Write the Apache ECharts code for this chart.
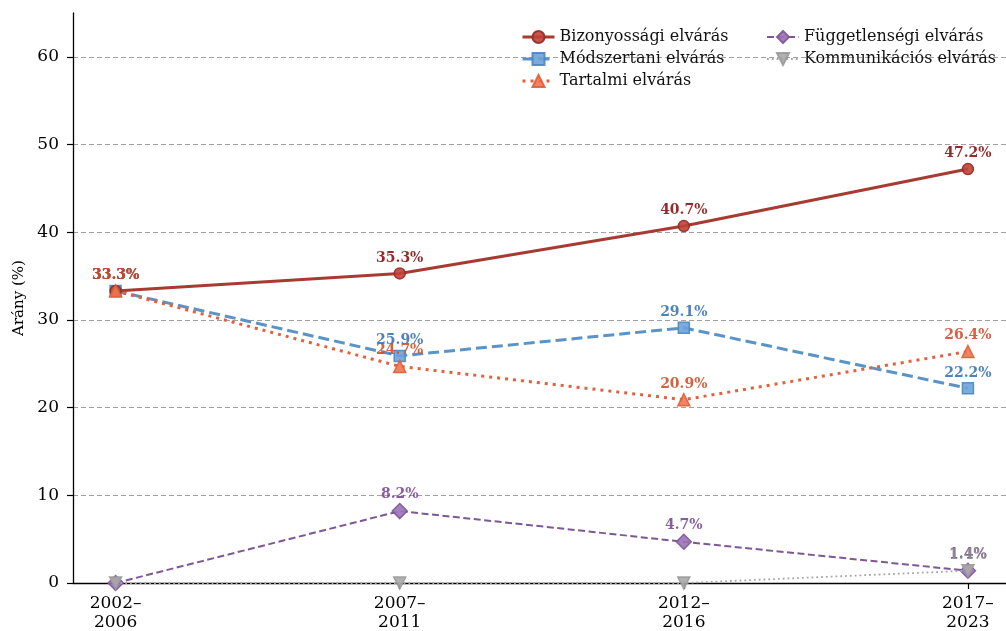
<!DOCTYPE html>
<html>
<head>
<meta charset="utf-8">
<script src="https://cdn.jsdelivr.net/npm/echarts@6/dist/echarts.min.js"></script>
<style>
  html, body { margin: 0; padding: 0; background: #fff; }
  #chart { width: 1006px; height: 631px; }
</style>
</head>
<body>
<div id="chart"></div>
<script>
// Periods on the x axis
const periods = ['2002–\n2006', '2007–\n2011', '2012–\n2016', '2017–\n2023'];

// Share of each expectation type per period (%)
const bizonyossagi = [33.3, 35.3, 40.7, 47.2];
const modszertani = [33.3, 25.9, 29.1, 22.2];
const tartalmi = [33.3, 24.7, 20.9, 26.4];
const fuggetlensegi = [0, 8.2, 4.7, 1.4];
const kommunikacios = [0, 0, 0, 1.4];

const yTicks = [0, 10, 20, 30, 40, 50, 60];
const xTicks = [0, 1, 2, 3];

const FONT = 'DejaVu Serif';

function pairs(values) {
  return values.map((v, i) => [i, v]);
}

const styles = {};

function makeSeries(name, values, cfg) {
  styles[name] = cfg;
  return {
    name: name,
    type: 'line',
    data: pairs(values),
    symbol: cfg.symbol,
    symbolSize: cfg.symbolSize,
    symbolRotate: cfg.rotate || 0,
    lineStyle: { color: cfg.line, width: cfg.width, type: cfg.dash || 'solid', cap: 'butt' },
    itemStyle: { color: cfg.fill, borderColor: cfg.border, borderWidth: 1.5, opacity: 0.9 },
    label: {
      show: true,
      position: 'top',
      distance: cfg.distance,
      fontFamily: FONT,
      fontWeight: 'bold',
      fontSize: 14,
      color: cfg.labelColor,
      formatter: p => (p.value[1] > 0 ? p.value[1].toFixed(1) + '%' : '')
    },
    emphasis: { disabled: true },
    clip: false,
    z: cfg.z
  };
}

const series = [
  makeSeries('Bizonyossági elvárás', bizonyossagi, {
    symbol: 'circle', symbolSize: 11, line: '#a83b31', width: 3,
    fill: '#c0433a', border: '#922b23', labelColor: '#8b1212', distance: 2, z: 5
  }),
  makeSeries('Módszertani elvárás', modszertani, {
    symbol: 'rect', symbolSize: 11, line: '#5a93c7', width: 3, dash: [11, 5],
    fill: '#6ea3d8', border: '#4d86c0', labelColor: '#3a76b4', distance: 2, z: 4
  }),
  makeSeries('Tartalmi elvárás', tartalmi, {
    symbol: 'triangle', symbolSize: 12, line: '#e0623d', width: 3, dash: [3, 5],
    fill: '#ee7550', border: '#e05c38', labelColor: '#d0502b', distance: 2, z: 6
  }),
  makeSeries('Függetlenségi elvárás', fuggetlensegi, {
    symbol: 'diamond', symbolSize: 15, line: '#7d5796', width: 2, dash: [7, 3.5],
    fill: '#9b72b8', border: '#7d5796', labelColor: '#7a4b96', distance: 1, z: 3
  }),
  makeSeries('Kommunikációs elvárás', kommunikacios, {
    symbol: 'triangle', rotate: 180, symbolSize: 12, line: '#a6a6a6', width: 1.8, dash: [1.8, 3],
    fill: '#a9a9a9', border: '#9a9a9a', labelColor: '#8c8c8c', distance: 2, z: 7
  })
];

const legendText = { fontFamily: FONT, fontSize: 16, color: '#111' };

function legendItems(names) {
  return names.map(n => ({
    name: n,
    lineStyle: { width: styles[n].width, type: styles[n].dash || 'solid' }
  }));
}

const legendBase = {
  orient: 'vertical', top: 24, itemGap: 6,
  itemWidth: 32, itemHeight: 15, textStyle: legendText
};

const option = {
  animation: false,
  backgroundColor: '#fff',
  grid: { left: 73, right: 0, top: 13, bottom: 48, containLabel: false, outerBoundsMode: 'none' },
  legend: [
    Object.assign({}, legendBase, {
      left: 516,
      data: legendItems(['Bizonyossági elvárás', 'Módszertani elvárás', 'Tartalmi elvárás'])
    }),
    Object.assign({}, legendBase, {
      left: 761,
      data: legendItems(['Függetlenségi elvárás', 'Kommunikációs elvárás'])
    })
  ],
  xAxis: {
    type: 'value',
    min: -0.15,
    max: 3.134,
    splitLine: { show: false },
    axisLine: { show: true, onZero: false, lineStyle: { color: '#000', width: 1.3 } },
    axisTick: { show: true, length: 6, customValues: xTicks, lineStyle: { color: '#000', width: 1.2 } },
    axisLabel: {
      customValues: xTicks,
      fontFamily: FONT, fontSize: 17, color: '#000', lineHeight: 19, margin: 11,
      formatter: v => periods[Math.round(v)] || ''
    }
  },
  yAxis: {
    type: 'value',
    min: 0,
    max: 65,
    name: 'Arány (%)',
    nameLocation: 'middle',
    nameGap: 46,
    nameTextStyle: { fontFamily: FONT, fontSize: 15, color: '#000' },
    axisLine: { show: true, onZero: false, lineStyle: { color: '#000', width: 1.3 } },
    axisTick: { show: true, length: 6, customValues: yTicks, lineStyle: { color: '#000', width: 1.2 } },
    axisLabel: {
      customValues: yTicks,
      fontFamily: FONT, fontSize: 17, color: '#000', margin: 14
    },
    splitLine: { show: true, lineStyle: { color: '#a0a0a0', type: [5, 3], width: 1.1 } }
  },
  series: series
};

const chart = echarts.init(document.getElementById('chart'), null, { renderer: 'canvas' });
chart.setOption(option);
</script>
</body>
</html>
